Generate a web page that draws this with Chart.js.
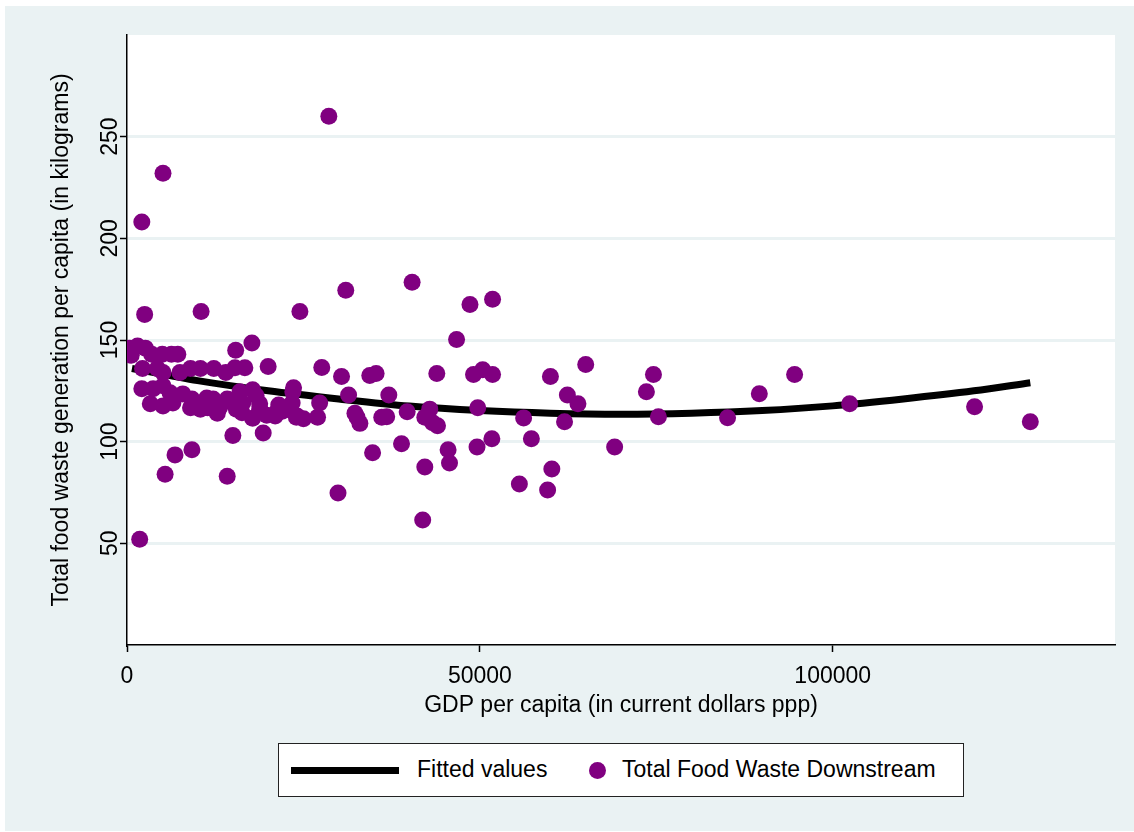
<!DOCTYPE html>
<html>
<head>
<meta charset="utf-8">
<script src="https://cdn.jsdelivr.net/npm/chart.js"></script>
<style>
  body { margin: 0; background: #fff; }
  #wrap { position: relative; width: 1134px; height: 832px; }
  #legend {
    position: absolute; left: 278px; top: 743px; width: 684px; height: 52px;
    border: 1px solid #222; background: #fff;
    font-family: "Liberation Sans", Arial, sans-serif; font-size: 23px; color: #000;
  }
  #legend .line { position: absolute; left: 12px; top: 23px; width: 108px; height: 7px; background: #000; }
  #legend .dot { position: absolute; left: 310px; top: 18px; width: 17px; height: 17px; border-radius: 50%; background: #800080; }
  #legend .t1 { position: absolute; left: 138px; top: 12px; }
  #legend .t2 { position: absolute; left: 343px; top: 12px; }
</style>
</head>
<body>
<div id="wrap">
  <canvas id="wasteChart" width="1134" height="832"></canvas>
  <div id="legend">
    <div class="line"></div><span class="t1">Fitted values</span>
    <div class="dot"></div><span class="t2">Total Food Waste Downstream</span>
  </div>
</div>
<script>
// GDP per capita (ppp) si deseuri alimentare pe cap de locuitor (kg)
var gdp = [400, 1500, 2600, 3500, 5000, 6300, 7200, 600, 2200, 4300, 5100, 7500, 9000, 10400, 12300,
  2100, 3700, 5100, 6100, 7900, 9200, 3300, 5100, 6500, 9000, 10400, 11900, 12800,
  5400, 6800, 9200, 1800, 2100, 5100, 2500, 10500,
  14000, 15300, 16700, 15400, 17700, 20000, 16000, 17800, 23500, 23600,
  11300, 12200, 14200, 15000, 16400, 18300, 18800, 11400, 13100, 15500, 16300,
  18800, 19800, 21200, 22000, 17800, 21000, 24100, 21500, 15000, 19300, 14200,
  24500, 31000, 28600, 27600, 30400, 34400, 35300, 43900, 31400, 37100, 27300, 23400,
  24000, 25000, 27000, 32300, 32600, 33000, 36100, 36800, 39700, 42900, 42200, 43300, 44000,
  29900, 34800, 38900, 42200, 41900, 45500, 45700,
  40400, 48600, 51800, 46700, 49100, 50400, 51800, 60000, 65000, 62400, 63900,
  49700, 56200, 62000, 49600, 51700, 57300, 60200, 55600, 59600, 69100,
  74600, 73600, 75300, 85100, 89600, 94600, 102400, 120100, 128000];
var waste = [146, 147, 146, 143, 143, 143, 143, 142.5, 136, 136, 134, 134, 136, 136, 136,
  126, 126, 127.5, 124, 123.5, 121, 118.6, 117.6, 119, 116.7, 116, 116.7, 114,
  84, 93.5, 96, 52, 208, 232, 162.6, 164,
  134, 136.4, 136.4, 145, 148.5, 137, 124.5, 125.5, 124.5, 126.5,
  121.5, 121, 121, 119, 119, 122.6, 118.6, 116.7, 116.7, 116, 114.2,
  116, 113, 114.5, 115, 111.5, 112.6, 112.6, 118, 103, 104.3, 83,
  164, 174.5, 260, 136.5, 132, 132.5, 133.5, 133.5, 123, 123, 119, 119,
  112, 111.3, 112, 114, 112, 109, 112, 112.3, 114.7, 116, 112, 109.3, 107.8,
  74.7, 94.5, 99, 87.5, 61.5, 96, 89.5,
  178.4, 167.5, 170, 150.3, 133, 135.4, 133, 132, 138, 123, 118.6,
  116.7, 111.7, 109.8, 97.4, 101.4, 101.4, 86.6, 79.2, 76.2, 97.4,
  133, 124.6, 112.2, 111.8, 123.6, 133, 118.7, 117.2, 109.8];

// valorile curbei ajustate
var fitGdp = [700, 10000, 20000, 30000, 40000, 50000, 60000, 70000, 80000, 90000, 100000, 110000, 120000, 128000];
var fitVal = [136, 130, 125, 121, 117.5, 115.3, 114, 113.5, 114, 115.3, 117.6, 121, 125, 129];

var yTicks = [50, 100, 150, 200, 250];
var xTicks = [0, 50000, 100000];

var FONT = '"Liberation Sans", Arial, sans-serif';
var FSIZE = 23;
var BG = '#EAF2F3';

var bgPlugin = {
    id: 'bg',
    beforeDraw: function(chart) {
        var c = chart.ctx, a = chart.chartArea;
        c.save();
        c.fillStyle = '#fff';
        c.fillRect(0, 0, chart.width, chart.height);
        c.fillStyle = BG;
        c.fillRect(5, 6, chart.width - 5, chart.height - 7);
        c.fillStyle = '#fff';
        c.fillRect(a.left, a.top, a.right - a.left, a.bottom - a.top);
        c.restore();
    },
    afterDraw: function(chart) {
        // etichete verticale pe axa y (ca in Stata)
        var c = chart.ctx, ys = chart.scales.y;
        c.save();
        c.fillStyle = '#000';
        c.font = FSIZE + 'px ' + FONT;
        c.textAlign = 'center';
        c.textBaseline = 'middle';
        yTicks.forEach(function(v) {
            c.save();
            c.translate(111, ys.getPixelForValue(v));
            c.rotate(-Math.PI / 2);
            c.fillText(String(v), 0, 0);
            c.restore();
        });
        c.restore();
    }
};

document.addEventListener('DOMContentLoaded', function() {
    var pts = gdp.map(function(g, i) { return { x: g, y: waste[i] }; });
    var fit = fitGdp.map(function(g, i) { return { x: g, y: fitVal[i] }; });
    var ctx = document.getElementById('wasteChart').getContext('2d');
    new Chart(ctx, {
        type: 'scatter',
        data: {
            datasets: [
                {
                    label: 'Total Food Waste Downstream',
                    data: pts,
                    backgroundColor: '#800080',
                    borderWidth: 0,
                    pointRadius: 8.5,
                    order: 1
                },
                {
                    type: 'line',
                    label: 'Fitted values',
                    data: fit,
                    borderColor: '#000',
                    borderWidth: 7,
                    pointRadius: 0,
                    tension: 0.4,
                    cubicInterpolationMode: 'monotone',
                    fill: false,
                    order: 2
                }
            ]
        },
        options: {
            responsive: false,
            animation: false,
            layout: { padding: { left: 0, top: 35, right: 19, bottom: 0 } },
            plugins: {
                legend: { display: false },
                tooltip: { enabled: false }
            },
            scales: {
                x: {
                    type: 'linear',
                    min: 0, max: 140000,
                    afterBuildTicks: function(s) { s.ticks = xTicks.map(function(v) { return { value: v }; }); },
                    afterFit: function(s) { s.height = 187; },
                    border: { display: true, color: '#000', width: 1.5 },
                    grid: { drawOnChartArea: false, drawTicks: true, tickLength: 7, tickColor: '#000', tickWidth: 1.5 },
                    ticks: { color: '#000', font: { family: FONT, size: FSIZE }, padding: 11, maxRotation: 0,
                             callback: function(v) { return String(v); } },
                    title: { display: true, text: 'GDP per capita (in current dollars ppp)', color: '#000',
                             font: { family: FONT, size: FSIZE }, padding: { bottom: 113 } }
                },
                y: {
                    type: 'linear',
                    min: 0, max: 300,
                    afterBuildTicks: function(s) { s.ticks = yTicks.map(function(v) { return { value: v }; }); },
                    afterFit: function(s) { s.width = 127; },
                    border: { display: true, color: '#000', width: 1.5 },
                    grid: { color: BG, lineWidth: 3, drawTicks: true, tickLength: 7, tickColor: '#000', tickWidth: 1.5 },
                    ticks: { display: false },
                    title: { display: true, text: 'Total food waste generation per capita (in kilograms)', color: '#000',
                             font: { family: FONT, size: FSIZE }, padding: { top: 48 } }
                }
            }
        },
        plugins: [bgPlugin]
    });
});
</script>
</body>
</html>
